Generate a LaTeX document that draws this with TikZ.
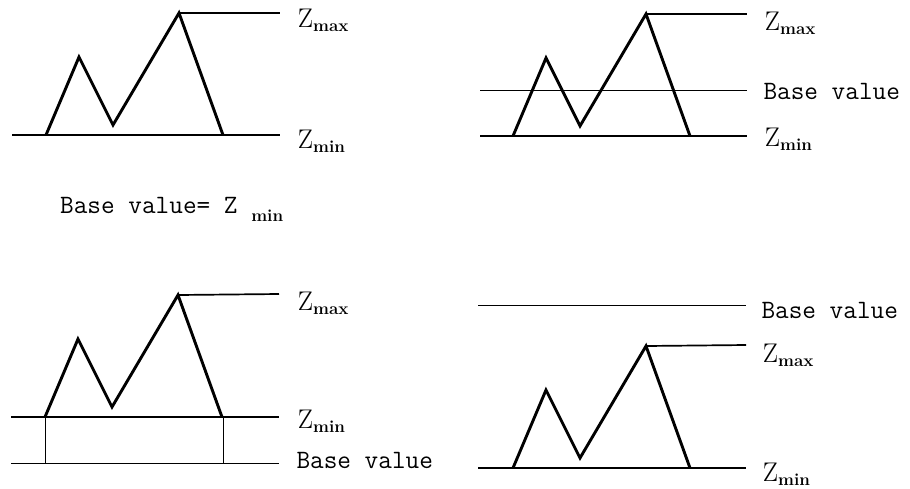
\documentclass[tikz,border=0pt]{standalone}
\usepackage{fontspec}
\usetikzlibrary{positioning}
\newcommand\zsub[1]{\raisebox{-4pt}{\fontsize{17}{17}\selectfont\rmfamily\bfseries #1}}
\newcommand\zlab[1]{{\fontsize{27}{27}\selectfont Z}\zsub{#1}}
\newcommand\basetxt{{\fontsize{26.5}{30}\selectfont\ttfamily Base value}}

\begin{document}
\begin{tikzpicture}[x=1pt,y=-1pt,
  prof/.style={line width=2.9pt,line join=miter},
  refline/.style={line width=1.7pt},
  thinline/.style={line width=1pt},
  lbl/.style={anchor=base west,inner sep=0pt}]
\useasboundingbox (0,0) rectangle (910,488);
\foreach \px/\py/\n in {46/135/a,513/136/b,45/417/c,513/468/d}
  {\draw[prof] (\px,\py) -- ++(33,-78) -- ++(34,68) -- ++(66,-112) coordinate (top\n) -- ++(44,122);}
% Base value = Z_min
\draw[refline] (topa) -- (280,13) node[lbl,xshift=17pt,yshift=-14pt] (zmaxa) {\zlab{max}};
\draw[refline] (12,135) -- (280,135) node[lbl,xshift=17pt,yshift=-13pt] (zmina) {\zlab{min}};
\node[lbl] (bvtext) at (60,213) {\fontsize{26.5}{30}\selectfont\ttfamily Base value= Z \raisebox{-8pt}{\fontsize{17}{17}\selectfont\rmfamily\bfseries min}};
% Z_min < Base value < Z_max
\draw[refline] (topb) -- (747,14) node[lbl,xshift=17pt,yshift=-16pt] (zmaxb) {\zlab{max}};
\draw[thinline] (480,90) -- (747,90) node[lbl,xshift=16pt,yshift=-9pt] (bvb) {\basetxt};
\draw[refline] (480,136) -- (747,136) node[lbl,xshift=17pt,yshift=-10pt] (zminb) {\zlab{min}};
% Base value < Z_min
\draw[refline] (topc) -- (279,294) node[lbl,xshift=18pt,yshift=-16pt] (zmaxc) {\zlab{max}};
\draw[refline] (11,417) -- (279,417) node[lbl,xshift=18pt,yshift=-11pt] (zminc) {\zlab{min}};
\draw[thinline] (11,463) -- (279,463) node[lbl,xshift=17pt,yshift=-5pt] (bvc) {\basetxt};
\draw[thinline] (45,417) -- (45,463) (223,417) -- (223,463);
% Base value > Z_max
\draw[thinline] (478,305) -- (746,305) node[lbl,xshift=15pt,yshift=-13pt] (bvd) {\basetxt};
\draw[refline] (topd) -- (746,345) node[lbl,xshift=16pt,yshift=-17pt] (zmaxd) {\zlab{max}};
\draw[refline] (478,468) -- (746,468) node[lbl,xshift=16pt,yshift=-13pt] (zmind) {\zlab{min}};
\end{tikzpicture}
\end{document}
